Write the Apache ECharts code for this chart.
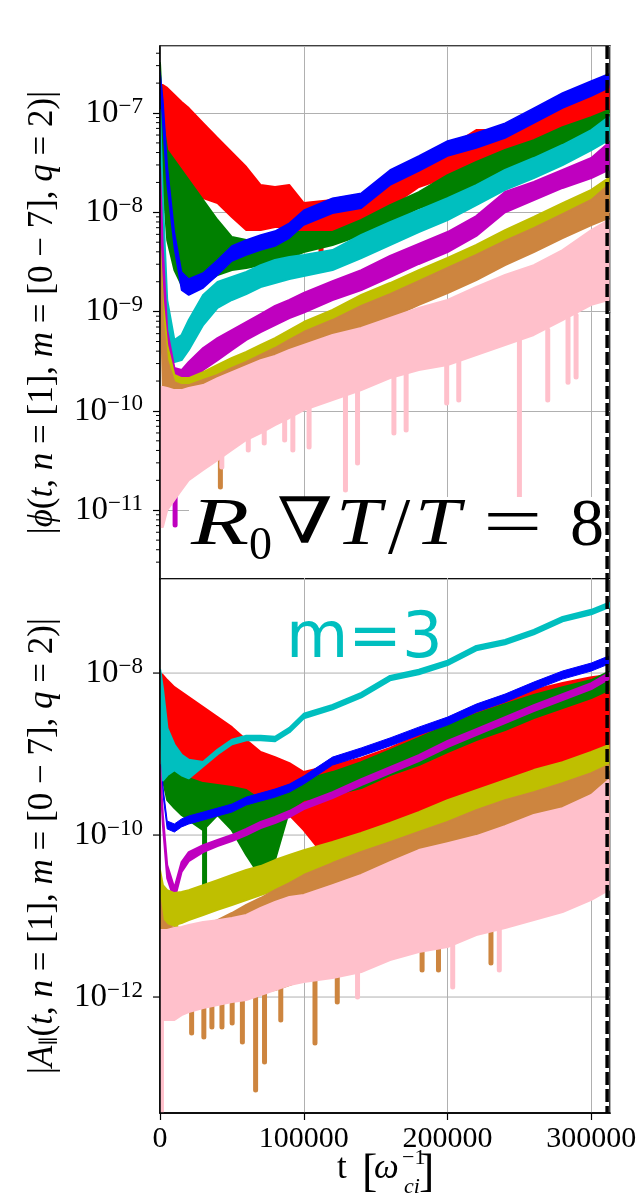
<!DOCTYPE html>
<html><head><meta charset="utf-8">
<script src="https://cdn.jsdelivr.net/npm/echarts@6/dist/echarts.min.js"></script>
<style>html,body{margin:0;padding:0;background:#fff}#c{width:636px;height:1201px}</style>
</head><body><div id="c"></div>
<script>
// ---------------- data ----------------
const T = [0, 2000, 5000, 10000, 15000, 20000, 30000, 40000, 50000, 60000, 70000, 80000, 90000, 100000, 120000, 140000, 160000, 180000, 200000, 220000, 240000, 260000, 280000, 300000, 312000];
const xTicks = [0, 100000, 200000, 300000];
const aparMajor = [1e-8, 1e-10, 1e-12];
const tEnd = 311000;

// top panel |phi|, upper / lower envelope of each m
const phi_m0_hi = [1.91e-7,1.91e-7,1.79e-7,1.52e-7,1.29e-7,1.12e-7,7.9e-8,5.6e-8,4.0e-8,2.86e-8,1.88e-8,1.80e-8,1.88e-8,1.24e-8,1.33e-8,1.49e-8,2.27e-8,3.14e-8,4.44e-8,6.74e-8,6.74e-8,1.02e-7,1.35e-7,1.63e-7,1.87e-7];
const phi_m0_lo = [1.52e-7,4.24e-8,2.67e-8,2.11e-8,1.88e-8,1.68e-8,1.39e-8,1.24e-8,8.97e-9,6.63e-9,6.63e-9,7.12e-9,7.12e-9,6.19e-9,5.26e-9,7.12e-9,1.13e-8,1.80e-8,2.27e-8,3.14e-8,4.24e-8,5.34e-8,7.2e-8,9.1e-8,1.07e-7];
const phi_m1_hi = [2.59e-7,1.35e-7,2.99e-8,6.33e-9,2.51e-9,2.13e-9,2.45e-9,3.31e-9,4.58e-9,5.26e-9,5.91e-9,6.48e-9,7.8e-9,1.05e-8,1.39e-8,1.56e-8,2.67e-8,3.69e-8,5.23e-8,6.28e-8,7.9e-8,1.12e-7,1.59e-7,2.10e-7,2.47e-7];
const phi_m1_lo = [2.15e-7,7.57e-8,1.88e-8,4.37e-9,1.65e-9,1.47e-9,1.73e-9,2.34e-9,3.23e-9,3.72e-9,4.17e-9,4.58e-9,5.51e-9,7.45e-9,9.8e-9,1.10e-8,1.88e-8,2.60e-8,3.69e-8,4.44e-8,5.6e-8,7.9e-8,1.12e-7,1.48e-7,1.79e-7];
const phi_m2_hi = [3.19e-7,8.5e-8,4.24e-8,3.36e-8,2.67e-8,2.11e-8,1.33e-8,8.37e-9,5.63e-9,5.26e-9,5.26e-9,5.51e-9,6.33e-9,6.33e-9,6.33e-9,8.37e-9,1.18e-8,1.60e-8,2.37e-8,3.21e-8,4.24e-8,5.34e-8,7.2e-8,9.1e-8,1.07e-7];
const phi_m2_lo = [2.59e-7,2.11e-8,5.26e-9,2.62e-9,1.85e-9,1.65e-9,1.85e-9,2.34e-9,2.62e-9,2.75e-9,2.94e-9,3.16e-9,3.47e-9,3.98e-9,4.69e-9,5.91e-9,7.98e-9,1.10e-8,1.39e-8,1.76e-8,2.27e-8,3.21e-8,4.05e-8,5.34e-8,6.43e-8];
const phi_m3_hi = [1.07e-7,1.33e-8,1.31e-9,5.18e-10,5.82e-10,8.23e-10,1.47e-9,1.99e-9,2.23e-9,2.51e-9,2.94e-9,3.31e-9,3.55e-9,3.72e-9,4.17e-9,5.91e-9,7.98e-9,1.05e-8,1.39e-8,1.88e-8,2.67e-8,3.52e-8,4.76e-8,6.74e-8,9.1e-8];
const phi_m3_lo = [8.5e-8,4.17e-9,5.18e-10,3.11e-10,3.25e-10,4.11e-10,7.33e-10,1.09e-9,1.31e-9,1.50e-9,1.77e-9,1.94e-9,2.13e-9,2.28e-9,2.62e-9,3.47e-9,4.69e-9,6.33e-9,8.37e-9,1.18e-8,1.68e-8,2.21e-8,2.99e-8,4.24e-8,5.34e-8];
const phi_m4_hi = [2.86e-8,4.17e-9,6.52e-10,2.71e-10,2.58e-10,3.11e-10,4.30e-10,5.42e-10,6.52e-10,7.86e-10,9.46e-10,1.14e-9,1.31e-9,1.54e-9,2.03e-9,2.62e-9,3.63e-9,4.80e-9,6.33e-9,9.18e-9,1.60e-8,2.02e-8,2.67e-8,3.52e-8,4.99e-8];
const phi_m4_lo = [2.37e-8,1.31e-9,1.82e-10,1.55e-10,1.62e-10,1.87e-10,2.58e-10,3.25e-10,4.11e-10,5.18e-10,6.23e-10,7.33e-10,8.62e-10,9.8e-10,1.31e-9,1.65e-9,2.23e-9,3.02e-9,3.98e-9,5.78e-9,1.0e-8,1.33e-8,1.76e-8,2.21e-8,2.67e-8];
const phi_m5_hi = [4.47e-9,1.31e-9,4.61e-10,2.30e-10,2.14e-10,2.14e-10,2.46e-10,2.90e-10,3.41e-10,3.92e-10,4.61e-10,5.42e-10,6.52e-10,7.86e-10,1.04e-9,1.47e-9,1.94e-9,2.62e-9,3.47e-9,4.69e-9,6.63e-9,8.97e-9,1.24e-8,1.68e-8,2.21e-8];
const phi_m5_lo = [3.72e-9,6.52e-10,2.30e-10,1.55e-10,1.51e-10,1.55e-10,1.70e-10,1.95e-10,2.30e-10,2.71e-10,3.25e-10,3.92e-10,4.61e-10,5.55e-10,7.33e-10,9.8e-10,1.31e-9,1.73e-9,2.34e-9,3.16e-9,4.37e-9,5.91e-9,7.98e-9,1.10e-8,1.33e-8];
const phi_m6_hi = [3.72e-9,8.23e-10,3.25e-10,1.95e-10,1.82e-10,1.82e-10,2.05e-10,2.30e-10,2.71e-10,3.11e-10,3.66e-10,4.30e-10,5.18e-10,6.23e-10,8.23e-10,1.14e-9,1.50e-9,2.03e-9,2.75e-9,3.72e-9,5.14e-9,6.94e-9,9.6e-9,1.33e-8,1.88e-8];
const phi_m6_lo = [2.94e-9,1.62e-10,1.29e-10,1.15e-10,1.15e-10,1.23e-10,1.35e-10,1.45e-10,1.62e-10,1.82e-10,2.14e-10,2.58e-10,3.11e-10,3.66e-10,4.94e-10,6.52e-10,8.62e-10,1.17e-9,1.54e-9,2.08e-9,2.94e-9,3.98e-9,5.51e-9,7.45e-9,8.77e-9];
const phi_m7_hi = [1.74e-10,1.74e-10,1.70e-10,1.62e-10,1.62e-10,1.70e-10,1.82e-10,2.14e-10,2.46e-10,2.83e-10,3.25e-10,3.57e-10,4.11e-10,4.61e-10,5.82e-10,6.83e-10,8.62e-10,1.09e-9,1.31e-9,1.77e-9,2.34e-9,2.94e-9,4.17e-9,6.63e-9,8.37e-9];
const phi_m7_lo = [6.77e-12,6.77e-12,1.0e-11,1.27e-11,1.60e-11,2.01e-11,2.54e-11,3.20e-11,4.04e-11,5.09e-11,5.99e-11,7.21e-11,8.49e-11,1.02e-10,1.29e-10,1.62e-10,2.14e-10,2.58e-10,2.90e-10,3.66e-10,4.61e-10,5.82e-10,8.23e-10,1.17e-9,1.31e-9];
// downward dips: [t, from, to]
const phi_m0_dips = [[112000,5.5e-9,3.09e-9]];
const phi_m4_dips = [[10500,1.62e-10,7.1e-12]];
const phi_m6_dips = [[8000,1.29e-10,1.52e-11],[42000,1.45e-10,1.71e-11]];
const phi_m7_dips = [[43000,4.04e-11,2.72e-11],[61400,5.72e-11,4.04e-11],[72500,6.42e-11,4.75e-11],[86700,8.49e-11,5.09e-11],[92400,9.1e-11,4.04e-11],[103700,1.07e-10,4.33e-11],[129000,1.45e-10,1.60e-11],[137400,1.62e-10,2.99e-11],[162700,2.30e-10,5.99e-11],[171200,2.46e-10,6.42e-11],[199400,2.90e-10,1.2e-10],[207800,3.25e-10,1.29e-10],[250000,5.18e-10,1.36e-11],[269700,6.52e-10,1.29e-10],[283800,8.62e-10,1.95e-10],[289400,9.2e-10,2.2e-10]];

// bottom panel |A_par|
const apar_m0_hi = [1.0e-8,9.44e-9,8.19e-9,6.71e-9,5.82e-9,5.05e-9,3.80e-9,2.86e-9,2.15e-9,1.49e-9,1.06e-9,9.17e-10,7.74e-10,5.99e-10,7.31e-10,8.9e-10,1.19e-9,1.72e-9,2.48e-9,3.30e-9,4.64e-9,6.17e-9,7.52e-9,8.9e-9,9.44e-9];
const apar_m0_lo = [6.17e-9,8.42e-10,5.5e-10,4.77e-10,4.51e-10,4.14e-10,3.91e-10,3.59e-10,3.30e-10,2.86e-10,2.55e-10,2.15e-10,1.77e-10,1.15e-10,4.14e-11,6.52e-11,1.15e-10,1.53e-10,1.92e-10,2.70e-10,3.39e-10,4.14e-10,5.5e-10,7.95e-10,1.12e-9];
const apar_m1_hi = [6.52e-9,4.02e-10,1.49e-10,1.37e-10,1.58e-10,1.72e-10,1.92e-10,2.15e-10,2.41e-10,2.94e-10,3.30e-10,3.70e-10,4.26e-10,5.35e-10,9.17e-10,1.19e-9,1.58e-9,2.15e-9,2.86e-9,4.14e-9,5.5e-9,7.74e-9,1.06e-8,1.33e-8,1.62e-8];
const apar_m1_lo = [5.5e-9,3.21e-10,1.19e-10,1.09e-10,1.26e-10,1.37e-10,1.53e-10,1.72e-10,1.92e-10,2.35e-10,2.63e-10,2.94e-10,3.39e-10,4.26e-10,7.31e-10,9.44e-10,1.26e-9,1.72e-9,2.28e-9,3.30e-9,4.38e-9,6.17e-9,8.42e-9,1.06e-8,1.29e-8];
const apar_m2_hi = [1.0e-8,4.64e-9,8.42e-10,5.99e-10,5.5e-10,5.05e-10,4.38e-10,4.14e-10,3.91e-10,3.59e-10,2.70e-10,3.12e-10,4.14e-10,4.77e-10,5.99e-10,7.95e-10,1.12e-9,1.58e-9,2.28e-9,3.12e-9,4.14e-9,5.35e-9,6.71e-9,8.19e-9,1.03e-8];
const apar_m2_lo = [6.17e-9,4.77e-10,2.70e-10,2.15e-10,1.77e-10,1.53e-10,1.15e-10,1.77e-10,1.15e-10,5.66e-11,3.03e-11,4.91e-11,2.03e-10,2.70e-10,3.12e-10,3.80e-10,5.5e-10,7.31e-10,1.06e-9,1.49e-9,1.98e-9,2.78e-9,3.70e-9,4.91e-9,6.17e-9];
const apar_m3_hi = [1.09e-8,6.17e-9,2.09e-9,1.29e-9,9.71e-10,8.42e-10,7.95e-10,1.12e-9,1.49e-9,1.67e-9,1.67e-9,1.62e-9,2.09e-9,3.12e-9,4.02e-9,5.66e-9,9.17e-9,1.09e-8,1.41e-8,2.15e-8,2.55e-8,3.39e-8,4.91e-8,6.0e-8,7.31e-8];
const apar_m3_lo = [6.17e-9,4.77e-10,5.5e-10,6.34e-10,5.5e-10,5.05e-10,7.11e-10,1.0e-9,1.33e-9,1.49e-9,1.49e-9,1.45e-9,1.87e-9,2.78e-9,3.59e-9,5.05e-9,8.19e-9,9.71e-9,1.26e-8,1.92e-8,2.28e-8,3.03e-8,4.38e-8,5.35e-8,6.52e-8];
const apar_m4_hi = [7.31e-10,1.77e-10,4.26e-11,2.22e-11,4.64e-11,6.17e-11,7.52e-11,8.67e-11,1.0e-10,1.19e-10,1.45e-10,1.67e-10,1.98e-10,2.48e-10,3.39e-10,4.91e-10,6.91e-10,9.71e-10,1.45e-9,2.03e-9,2.86e-9,4.02e-9,5.5e-9,7.52e-9,1.0e-8];
const apar_m4_lo = [5.5e-10,1.33e-10,2.94e-11,1.58e-11,3.49e-11,4.77e-11,6.17e-11,7.31e-11,8.42e-11,1.0e-10,1.22e-10,1.41e-10,1.67e-10,2.09e-10,2.86e-10,4.14e-10,5.82e-10,8.19e-10,1.22e-9,1.72e-9,2.41e-9,3.39e-9,4.64e-9,6.34e-9,8.42e-9];
const apar_m5_hi = [3.70e-11,2.41e-11,2.09e-11,1.92e-11,1.98e-11,2.09e-11,2.41e-11,2.78e-11,3.21e-11,3.70e-11,4.14e-11,4.91e-11,5.66e-11,6.52e-11,8.19e-11,1.06e-10,1.41e-10,1.92e-10,2.70e-10,3.59e-10,4.77e-10,6.34e-10,7.95e-10,1.06e-9,1.29e-9];
const apar_m5_lo = [1.58e-11,7.74e-12,7.74e-12,7.74e-12,8.19e-12,8.9e-12,1.03e-11,1.19e-11,1.37e-11,1.58e-11,1.82e-11,2.09e-11,2.55e-11,3.03e-11,3.91e-11,5.20e-11,6.91e-11,9.44e-11,1.33e-10,1.77e-10,2.35e-10,3.12e-10,3.91e-10,5.20e-10,6.34e-10];
const apar_m6_hi = [1.58e-11,8.9e-12,7.74e-12,7.11e-12,7.11e-12,7.31e-12,7.74e-12,8.9e-12,1.09e-11,1.37e-11,1.67e-11,2.09e-11,2.55e-11,3.21e-11,4.51e-11,6.17e-11,8.19e-11,1.09e-10,1.45e-10,2.03e-10,2.70e-10,3.39e-10,4.38e-10,5.82e-10,7.31e-10];
const apar_m6_lo = [9.17e-13,7.95e-13,7.95e-13,7.95e-13,7.95e-13,8.42e-13,9.17e-13,9.17e-13,9.71e-13,1.06e-12,1.15e-12,1.22e-12,1.41e-12,1.62e-12,2.15e-12,2.86e-12,4.02e-12,5.05e-12,6.71e-12,8.9e-12,1.26e-11,1.67e-11,2.22e-11,3.21e-11,4.26e-11];
const apar_m7_hi = [6.71e-12,6.71e-12,6.71e-12,7.11e-12,7.31e-12,7.74e-12,8.42e-12,8.9e-12,9.44e-12,1.03e-11,1.26e-11,1.49e-11,1.72e-11,1.82e-11,2.41e-11,3.21e-11,4.64e-11,6.52e-11,7.95e-11,9.71e-11,1.29e-10,1.77e-10,2.15e-10,3.12e-10,4.77e-10];
const apar_m7_lo = [5.99e-13,5.20e-13,5.20e-13,5.20e-13,5.99e-13,6.52e-13,7.31e-13,7.95e-13,8.67e-13,9.17e-13,1.06e-12,1.22e-12,1.41e-12,1.53e-12,1.72e-12,2.03e-12,2.86e-12,3.59e-12,4.14e-12,5.82e-12,7.11e-12,8.9e-12,1.12e-11,1.58e-11,2.09e-11];
const apar_m0_dips = [[150000,1.0e-10,4.64e-11],[172000,1.53e-10,6.52e-11],[190000,1.92e-10,7.52e-11],[213000,2.70e-10,1.0e-10],[232000,3.39e-10,1.15e-10],[252000,4.14e-10,1.62e-10],[268000,4.77e-10,1.92e-10],[286000,6.34e-10,2.70e-10],[296000,7.31e-10,2.35e-10],[306000,9.71e-10,3.59e-10]];
const apar_m2_dips = [[31000,1.53e-10,1.92e-11]];
const apar_m5_dips = [[11000,7.74e-12,5.99e-13]];
const apar_m6_dips = [[13500,9.17e-13,6.91e-13],[22000,9.17e-13,3.59e-13],[30500,9.17e-13,3.21e-13],[36100,9.17e-13,4.26e-13],[43100,9.17e-13,4.26e-13],[50200,9.71e-13,4.77e-13],[57300,1.06e-12,2.78e-13],[66500,1.12e-12,7.11e-14],[72700,1.15e-12,1.58e-13],[84000,1.29e-12,5.20e-13],[107800,1.72e-12,2.70e-13],[123300,2.28e-12,8.67e-13],[182300,5.35e-12,2.15e-12],[193700,6.17e-12,2.15e-12],[230200,1.03e-11,2.63e-12]];
const apar_m7_dips = [[1000,9.17e-13,3.7e-14],[10500,6.91e-13,5.66e-13],[137400,2.15e-12,1.0e-12],[203600,4.38e-12,1.33e-12],[236000,7.74e-12,2.15e-12]];

// ---------------- chart ----------------
const COLORS = ['#ff0000','#0000ff','#008000','#00bfbf','#bf00bf','#bfbf00','#cd853f','#ffc0cb'];
const PHI_MIN = 2.03e-12, PHI_MAX = 4.73e-7, APAR_MIN = 3.7e-14, APAR_MAX = 1.45e-7, T_MAX = 313000;
const SERIF = 'Liberation Serif, DejaVu Serif, serif';

function band(g, color, hi, lo, dips, stroke) {
  return {
    type: 'custom', coordinateSystem: 'cartesian2d', xAxisIndex: g, yAxisIndex: g,
    clip: true, silent: true, animation: false, z: 2,
    data: T.map((t, i) => [t, hi[i], lo[i]]),
    renderItem: function (params, api) {
      if (params.dataIndex !== 0) return null;
      const pts = [];
      for (let i = 0; i < T.length; i++) pts.push(api.coord([T[i], hi[i]]));
      for (let i = T.length - 1; i >= 0; i--) pts.push(api.coord([T[i], lo[i]]));
      const kids = [{ type: 'polygon', shape: { points: pts },
        style: { fill: color, stroke: color, lineWidth: stroke, lineJoin: 'round' } }];
      (dips || []).forEach(d => {
        const a = api.coord([d[0], d[1]]), b = api.coord([d[0], d[2]]);
        kids.push({ type: 'line', shape: { x1: a[0], y1: a[1], x2: b[0], y2: b[1] },
          style: { stroke: color, lineWidth: 5, lineCap: 'round' } });
      });
      return { type: 'group', children: kids };
    }
  };
}

function vline(g, ymin, ymax) {
  return {
    type: 'custom', coordinateSystem: 'cartesian2d', xAxisIndex: g, yAxisIndex: g,
    silent: true, animation: false, z: 60, data: [[tEnd, ymin]],
    renderItem: function (params, api) {
      const a = api.coord([tEnd, ymax]), b = api.coord([tEnd, ymin]);
      return { type: 'line', shape: { x1: a[0], y1: a[1], x2: b[0], y2: b[1] },
        style: { stroke: '#000', lineWidth: 3.5, lineDash: [13, 4] } };
    }
  };
}

function minorTicks(g, ymin, ymax) {
  return {
    type: 'custom', coordinateSystem: 'cartesian2d', xAxisIndex: g, yAxisIndex: g,
    silent: true, animation: false, z: 21, data: [[0, ymax]],
    renderItem: function (params, api) {
      const kids = [];
      for (let d = -13; d <= -6; d++) {
        for (let k = 2; k <= 9; k++) {
          const v = k * Math.pow(10, d);
          if (v <= ymin || v >= ymax) continue;
          const p = api.coord([0, v]);
          kids.push({ type: 'line', shape: { x1: p[0] - 4, y1: p[1], x2: p[0], y2: p[1] },
            style: { stroke: '#000', lineWidth: 1 } });
        }
      }
      return { type: 'group', children: kids };
    }
  };
}

const labRich = {
  b: { fontFamily: SERIF, fontSize: 33, fill: '#000', color: '#000', lineHeight: 36 },
  s: { fontFamily: SERIF, fontSize: 23, fill: '#000', color: '#000', lineHeight: 22, verticalAlign: 'top' }
};

// bottom panel: major grid lines, ticks and labels every two decades
function aparGrid() {
  return {
    type: 'custom', coordinateSystem: 'cartesian2d', xAxisIndex: 1, yAxisIndex: 1,
    silent: true, animation: false, z: 1, data: [[0, APAR_MAX]],
    renderItem: function (params, api) {
      return { type: 'group', children: aparMajor.map(v => {
        const a = api.coord([0, v]), b = api.coord([T_MAX, v]);
        return { type: 'line', shape: { x1: a[0], y1: a[1], x2: b[0], y2: b[1] }, style: { stroke: '#b0b0b0', lineWidth: 1 } };
      }) };
    }
  };
}
function aparTicks() {
  return {
    type: 'custom', coordinateSystem: 'cartesian2d', xAxisIndex: 1, yAxisIndex: 1,
    silent: true, animation: false, z: 21, data: [[0, APAR_MAX]],
    renderItem: function (params, api) {
      const kids = [];
      aparMajor.forEach(v => {
        const p = api.coord([0, v]);
        const e = Math.round(Math.log10(v));
        kids.push({ type: 'line', shape: { x1: p[0] - 7, y1: p[1], x2: p[0], y2: p[1] }, style: { stroke: '#000', lineWidth: 1.2 } });
        kids.push({ type: 'text', x: p[0] - 17, y: p[1],
          style: { text: '{b|10}{s|\u2212' + (-e) + '}', rich: labRich, align: 'right', verticalAlign: 'middle', fill: '#000' } });
      });
      return { type: 'group', children: kids };
    }
  };
}

const yRich = {
  b: { fontFamily: SERIF, fontSize: 33, color: '#000', lineHeight: 36 },
  s: { fontFamily: SERIF, fontSize: 23, color: '#000', lineHeight: 22, verticalAlign: 'top' }
};
function yFmt(v) {
  const L = Math.log10(v), e = Math.round(L);
  if (Math.abs(L - e) > 1e-6) return '';
  return '{b|10}{s|\u2212' + (-e) + '}';
}
const nameRich = {
  n: { fontFamily: SERIF, fontSize: 35, color: '#000' },
  i: { fontFamily: SERIF, fontSize: 35, color: '#000', fontStyle: 'italic' },
  sub: { fontFamily: 'DejaVu Serif', fontSize: 20, color: '#000', verticalAlign: 'bottom', padding: [14, 0, 0, 0] }
};
const gridLine = { show: true, lineStyle: { color: '#b0b0b0', width: 1 } };

function baseX(g) {
  return { gridIndex: g, type: 'value', min: 0, max: T_MAX, interval: 100000, position: 'bottom',
    axisLine: { show: false }, axisTick: { show: false }, axisLabel: { show: false }, splitLine: gridLine, z: 0 };
}

const option = {
  animation: false,
  backgroundColor: '#fff',
  grid: [
    { left: 160, top: 46, width: 450, height: 533, show: true, borderColor: '#000', borderWidth: 1.5, backgroundColor: 'transparent', containLabel: false, outerBoundsMode: 'none' },
    { left: 160, top: 579, width: 450, height: 534, show: true, borderColor: '#000', borderWidth: 1.5, backgroundColor: 'transparent', containLabel: false, outerBoundsMode: 'none' }
  ],
  xAxis: [
    baseX(0), baseX(1),
    { gridIndex: 0, type: 'value', min: 0, max: T_MAX, interval: 100000, position: 'bottom', z: 20,
      axisLine: { show: false }, axisTick: { show: false }, axisLabel: { show: false }, splitLine: { show: false } },
    { gridIndex: 1, type: 'value', min: 0, max: T_MAX, interval: 100000, position: 'bottom', z: 20,
      axisLine: { show: true, onZero: false, lineStyle: { color: '#000', width: 1.5 } },
      axisTick: { show: true, inside: false, length: 7, lineStyle: { color: '#000', width: 1.2 } },
      axisLabel: { show: true, margin: 11, fontFamily: SERIF, fontSize: 30, color: '#000', showMaxLabel: false, hideOverlap: false,
        formatter: v => (xTicks.indexOf(v) >= 0 ? String(v) : '') },
      splitLine: { show: false } }
  ],
  yAxis: [
    { gridIndex: 0, type: 'log', logBase: 10, min: PHI_MIN, max: PHI_MAX, splitNumber: 5, position: 'left', z: 0,
      axisLine: { show: false }, axisTick: { show: false }, axisLabel: { show: false }, splitLine: gridLine },
    { gridIndex: 1, type: 'log', logBase: 10, min: APAR_MIN, max: APAR_MAX, splitNumber: 3, position: 'left', z: 0,
      axisLine: { show: false }, axisTick: { show: false }, axisLabel: { show: false }, splitLine: { show: false } },
    { gridIndex: 0, type: 'log', logBase: 10, min: PHI_MIN, max: PHI_MAX, splitNumber: 5, position: 'left', z: 20,
      axisLine: { show: true, onZero: false, lineStyle: { color: '#000', width: 1.5 } },
      axisTick: { show: true, inside: false, length: 7, lineStyle: { color: '#000', width: 1.2 } },
      axisLabel: { show: true, margin: 17, formatter: yFmt, rich: yRich, showMinLabel: false, showMaxLabel: false },
      splitLine: { show: false },
      name: '{n||}{i|\u03d5}{n|(}{i|t}{n|, }{i|n}{n| = [1], }{i|m}{n| = [0 \u2212 7], }{i|q}{n| = 2)|}',
      nameLocation: 'middle', nameRotate: 90, nameGap: 100,
      nameTextStyle: { fontFamily: SERIF, fontSize: 35, color: '#000', rich: nameRich } },
    { gridIndex: 1, type: 'log', logBase: 10, min: APAR_MIN, max: APAR_MAX, splitNumber: 3, position: 'left', z: 20,
      axisLine: { show: true, onZero: false, lineStyle: { color: '#000', width: 1.5 } },
      axisTick: { show: false }, axisLabel: { show: false }, splitLine: { show: false },
      name: '{n||}{i|A}{sub|\u2225}{n|(}{i|t}{n|, }{i|n}{n| = [1], }{i|m}{n| = [0 \u2212 7], }{i|q}{n| = 2)|}',
      nameLocation: 'middle', nameRotate: 90, nameGap: 100,
      nameTextStyle: { fontFamily: SERIF, fontSize: 35, color: '#000', rich: nameRich } }
  ],
  series: [
    aparGrid(),
    band(0, COLORS[0], phi_m0_hi, phi_m0_lo, phi_m0_dips, 2),
    band(0, COLORS[2], phi_m2_hi, phi_m2_lo, null, 2),
    band(0, COLORS[1], phi_m1_hi, phi_m1_lo, null, 1.5),
    band(0, COLORS[3], phi_m3_hi, phi_m3_lo, null, 2),
    band(0, COLORS[4], phi_m4_hi, phi_m4_lo, phi_m4_dips, 2),
    band(0, COLORS[5], phi_m5_hi, phi_m5_lo, null, 2),
    band(0, COLORS[6], phi_m6_hi, phi_m6_lo, phi_m6_dips, 2),
    band(0, COLORS[7], phi_m7_hi, phi_m7_lo, phi_m7_dips, 2),
    band(1, COLORS[0], apar_m0_hi, apar_m0_lo, apar_m0_dips, 2),
    band(1, COLORS[2], apar_m2_hi, apar_m2_lo, apar_m2_dips, 2),
    band(1, COLORS[1], apar_m1_hi, apar_m1_lo, null, 1),
    band(1, COLORS[3], apar_m3_hi, apar_m3_lo, null, 2.5),
    band(1, COLORS[4], apar_m4_hi, apar_m4_lo, null, 2),
    band(1, COLORS[5], apar_m5_hi, apar_m5_lo, apar_m5_dips, 2),
    band(1, COLORS[6], apar_m6_hi, apar_m6_lo, apar_m6_dips, 2),
    band(1, COLORS[7], apar_m7_hi, apar_m7_lo, apar_m7_dips, 2),
    minorTicks(0, PHI_MIN, PHI_MAX),
    aparTicks(),
    vline(0, PHI_MIN, PHI_MAX),
    vline(1, APAR_MIN, APAR_MAX)
  ],
  graphic: [
    { type: 'rect', z: 50, shape: { x: 189, y: 497, width: 417, height: 81 }, style: { fill: '#fff' } },
    { type: 'text', z: 51, x: 191, y: 526, scaleX: 1.4, style: { text: 'R', fontFamily: SERIF, fontSize: 68, fontStyle: 'italic', fill: '#000', align: 'left', verticalAlign: 'middle' } },
    { type: 'text', z: 51, x: 249, y: 547, style: { text: '0', fontFamily: SERIF, fontSize: 46, fill: '#000', align: 'left', verticalAlign: 'middle' } },
    { type: 'text', z: 51, x: 277, y: 526, scaleX: 1.25, style: { text: '\u2207', fontFamily: SERIF, fontSize: 64, fill: '#000', align: 'left', verticalAlign: 'middle' } },
    { type: 'text', z: 51, x: 336, y: 526, scaleX: 1.2, style: { text: 'T', fontFamily: SERIF, fontSize: 68, fontStyle: 'italic', fill: '#000', align: 'left', verticalAlign: 'middle' } },
    { type: 'text', z: 51, x: 388, y: 532, style: { text: '/', fontFamily: SERIF, fontSize: 80, fill: '#000', align: 'left', verticalAlign: 'middle' } },
    { type: 'text', z: 51, x: 415, y: 526, scaleX: 1.2, style: { text: 'T', fontFamily: SERIF, fontSize: 68, fontStyle: 'italic', fill: '#000', align: 'left', verticalAlign: 'middle' } },
    { type: 'text', z: 51, x: 483, y: 526, scaleX: 1.55, style: { text: '=', fontFamily: SERIF, fontSize: 68, fill: '#000', align: 'left', verticalAlign: 'middle' } },
    { type: 'text', z: 51, x: 570, y: 527, style: { text: '8', fontFamily: SERIF, fontSize: 68, fill: '#000', align: 'left', verticalAlign: 'middle' } },
    { type: 'text', z: 51, x: 286, y: 640, style: { text: 'm=3', fontFamily: 'DejaVu Sans', fontSize: 64, fill: '#00bfbf', align: 'left', verticalAlign: 'middle' } },
    { type: 'text', z: 51, x: 337, y: 1169, style: { text: 't', fontFamily: SERIF, fontSize: 35, fill: '#000', align: 'left', verticalAlign: 'middle' } },
    { type: 'text', z: 51, x: 362, y: 1174, style: { text: '[', fontFamily: SERIF, fontSize: 46, fill: '#000', align: 'left', verticalAlign: 'middle' } },
    { type: 'text', z: 51, x: 374, y: 1169, style: { text: '\u03c9', fontFamily: SERIF, fontSize: 35, fontStyle: 'italic', fill: '#000', align: 'left', verticalAlign: 'middle' } },
    { type: 'text', z: 51, x: 402, y: 1158, style: { text: '\u22121', fontFamily: SERIF, fontSize: 22, fill: '#000', align: 'left', verticalAlign: 'middle' } },
    { type: 'text', z: 51, x: 404, y: 1187, style: { text: 'ci', fontFamily: SERIF, fontSize: 22, fontStyle: 'italic', fill: '#000', align: 'left', verticalAlign: 'middle' } },
    { type: 'text', z: 51, x: 419, y: 1174, style: { text: ']', fontFamily: SERIF, fontSize: 46, fill: '#000', align: 'left', verticalAlign: 'middle' } }
  ]
};

const chart = echarts.init(document.getElementById('c'), null, { renderer: 'canvas' });
chart.setOption(option);
</script>
</body></html>
